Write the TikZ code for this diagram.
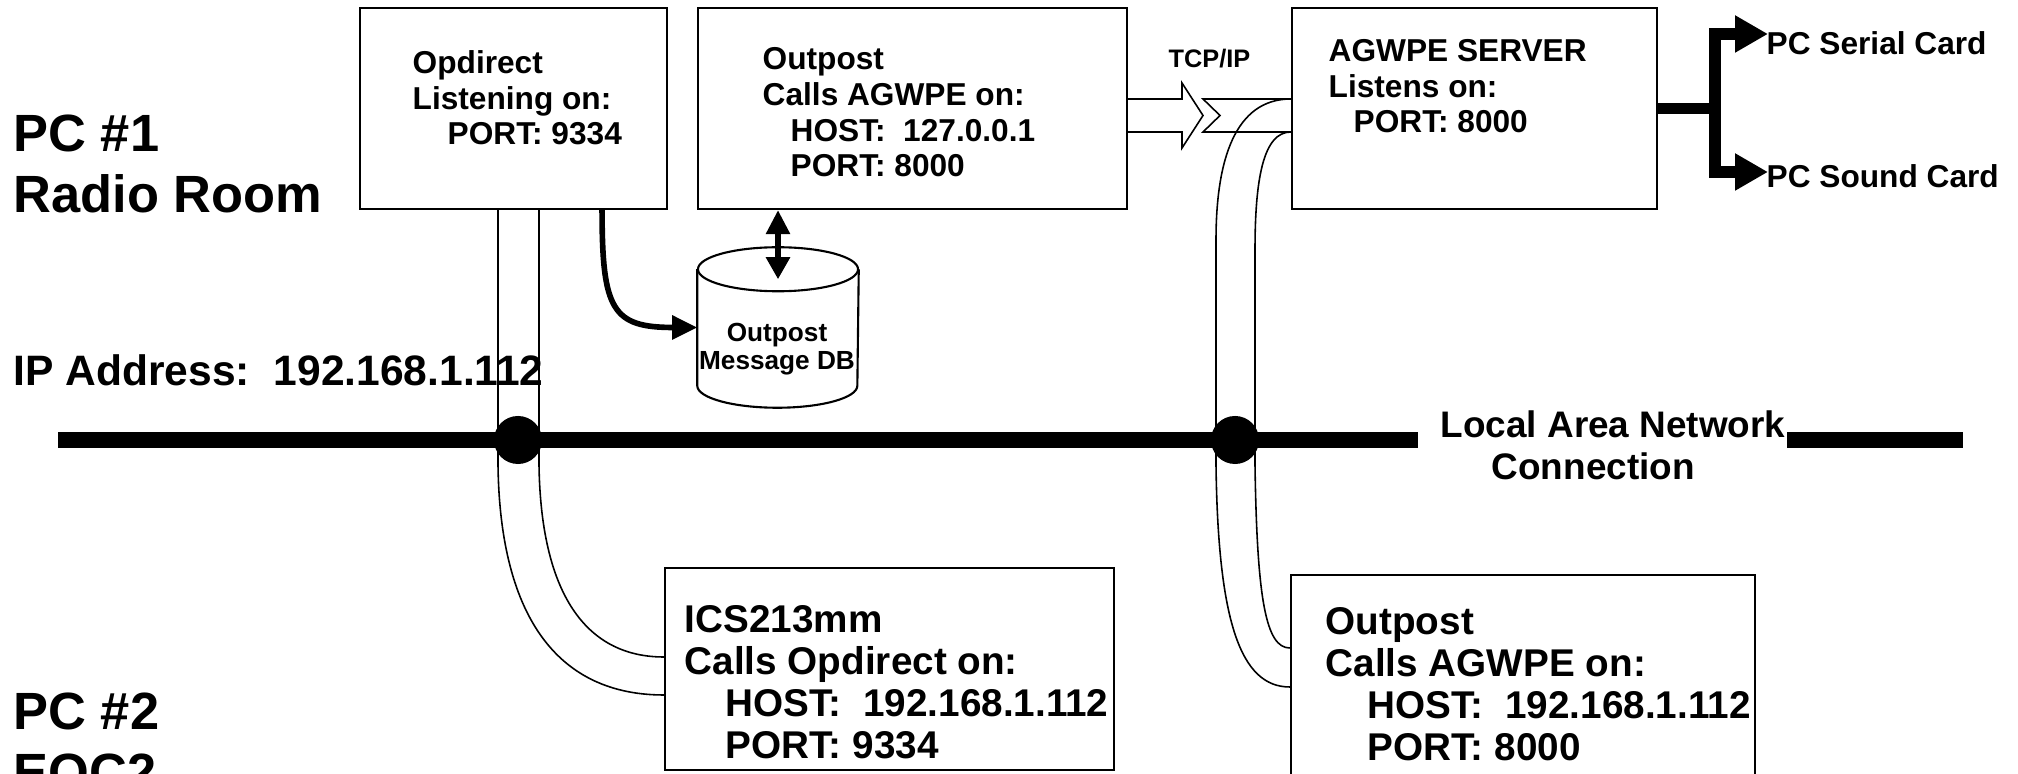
\documentclass[tikz,border=0pt]{standalone}
\usepackage{fontspec}
\setmainfont{Liberation Sans}
\usepackage{tikz}
\usetikzlibrary{calc, positioning, arrows.meta}
\frenchspacing

\tikzset{
  box/.style={draw, line width=0.6pt, rectangle, inner sep=0pt},
  boxtext/.style={anchor=base west, align=left, inner sep=0pt, font=\fontsize{9}{10.2}\selectfont\bfseries},
  lowtext/.style={anchor=base west, align=left, inner sep=0pt, font=\fontsize{11}{11.95}\selectfont\bfseries},
  pctitle/.style={anchor=base west, align=left, inner sep=0pt, font=\fontsize{14.9}{17.35}\selectfont\bfseries},
  pipe/.style={line width=0.45pt},
  lan/.style={line width=4.3pt},
  tap/.style={circle, fill=black, inner sep=0pt, minimum size=0.48cm},
  feed/.style={line width=3.4pt},
  heavy/.style={line width=1.6pt}
}

\begin{document}
\begin{tikzpicture}[x=0.01cm, y=-0.01cm]
\useasboundingbox (0,0) rectangle (2018,774);

% PC #1 boxes
\node[box, minimum width=3.07cm, minimum height=2.01cm] (opdirect) at (513.5,108.5) {};
\node[box, minimum width=4.29cm, minimum height=2.01cm] (outpost) at (912.5,108.5) {};
\node[box, minimum width=3.65cm, minimum height=2.01cm] (agwpe) at (1474.5,108.5) {};
\node[inner sep=0pt, minimum width=1.6cm, minimum height=1.59cm] (db) at (778,327.5) {};
\draw[line width=0.6pt] ([yshift=-0.22cm]db.north) ellipse [x radius=0.8cm, y radius=0.22cm];
\draw[line width=0.6pt] ([yshift=-0.22cm]db.north west) -- ([yshift=0.22cm]db.south west)
  arc[start angle=180, end angle=360, x radius=0.8cm, y radius=0.22cm] -- ([yshift=-0.22cm]db.north east);

\node[boxtext] (opdirecttxt) at (412,145) {Opdirect\\Listening on:\\\hspace*{0.35cm}PORT: 9334};
\node[boxtext] (outposttxt) at (762,177) {Outpost\\Calls AGWPE on:\\\hspace*{0.28cm}HOST:\ \ 127.0.0.1\\\hspace*{0.28cm}PORT: 8000};
\node[boxtext] (agwpetxt) at (1328,133) {AGWPE SERVER\\Listens on:\\\hspace*{0.25cm}PORT: 8000};
\node[anchor=base, align=center, inner sep=0pt, font=\fontsize{7.45}{7.97}\selectfont\bfseries] (dbtxt) at (777,370) {Outpost\\Message DB};
\node[anchor=base west, inner sep=0pt, font=\fontsize{7.2}{8}\selectfont\bfseries] (tcpip) at (1168,68) {TCP/IP};
\node[boxtext] (serial) at (1766,55) {PC Serial Card};
\node[boxtext] (sound) at (1766,188) {PC Sound Card};

% PC #2 boxes
\node[box, minimum width=4.49cm, minimum height=2.02cm] (ics) at (889.5,669) {};
\node[box, minimum width=4.64cm, minimum height=2.02cm] (outposttwo) at (1523,676) {};
\node[lowtext] (icstxt) at (684,759) {ICS213mm\\Calls Opdirect on:\\\hspace*{0.41cm}HOST:\ \ 192.168.1.112\\\hspace*{0.41cm}PORT: 9334};
\node[lowtext] (outposttwotxt) at (1325,761) {Outpost\\Calls AGWPE on:\\\hspace*{0.42cm}HOST:\ \ 192.168.1.112\\\hspace*{0.42cm}PORT: 8000};

\node[pctitle] (pcone) at (13,213) {PC \#1\\Radio Room};
\node[pctitle] (pctwo) at (13,791) {PC \#2\\EOC2};
\node[anchor=base west, inner sep=0pt, font=\fontsize{12.1}{14}\selectfont\bfseries] (ipaddr) at (13,386) {IP Address:\ \ 192.168.1.112};
\node[anchor=base west, align=left, inner sep=0pt, font=\fontsize{10.5}{12.2}\selectfont\bfseries] (lantxt) at (1440,480) {Local Area Network\\\hspace*{0.51cm}Connection};

% pipes down to the network
\draw[pipe] (opdirect.south -| 498,0) -- (498,465) .. controls (500,620) and (560,695) .. (ics.west |- 0,695);
\draw[pipe] (opdirect.south -| 539,0) -- (539,465) .. controls (541,600) and (590,657) .. (ics.west |- 0,657);
\draw[pipe] (agwpe.west |- 0,99) .. controls (1235,99) and (1216,160) .. (1216,240) -- (1216,465) .. controls (1218,620) and (1240,687) .. (outposttwo.west |- 0,687);
\draw[pipe] (agwpe.west |- 0,132) .. controls (1263,132) and (1255,180) .. (1255,250) -- (1255,465) .. controls (1257,600) and (1266,648) .. (outposttwo.west |- 0,648);

% TCP/IP arrow into the server
\draw[pipe] (outpost.east |- 0,99) -- (1182,99) -- (1182,83) -- (1203,115.5) -- (1182,148) -- (1182,132) -- (outpost.east |- 0,132);
\draw[pipe] (agwpe.west |- 0,99) -- (1203,99) -- (1220,115.5) -- (1203,132) -- (agwpe.west |- 0,132);

% the LAN
\coordinate (lanW) at (58,440);
\coordinate (lanGapW) at (1418,440);
\coordinate (lanGapE) at (1787,440);
\coordinate (lanE) at (1963,440);
\draw[lan] (lanW) -- (lanGapW) (lanGapE) -- (lanE);
\node[tap] (tapA) at (518,440) {};
\node[tap] (tapB) at (1235,440) {};

% database links
\draw[heavy, {Triangle[length=2.4mm,width=2.3mm]}-{Triangle[length=2.2mm,width=2.3mm]}] (db.north |- outpost.south) -- ([yshift=-0.32cm]db.north);
\draw[heavy, -{Triangle[length=2.5mm,width=2.3mm]}] ([xshift=0.885cm]opdirect.south) .. controls +(0,100) and +(-85,0) .. (db.west);

% server to the cards
\coordinate (serialin) at (1768,34);
\coordinate (soundin) at (1768,172);
\draw[feed] (agwpe.east) -- ++(57,0) coordinate (fork);
\draw[feed, -{Triangle[length=3.3mm,width=3.5mm]}] (fork) |- (serialin);
\draw[feed, -{Triangle[length=3.3mm,width=3.5mm]}] (fork) |- (soundin);
\end{tikzpicture}
\end{document}
